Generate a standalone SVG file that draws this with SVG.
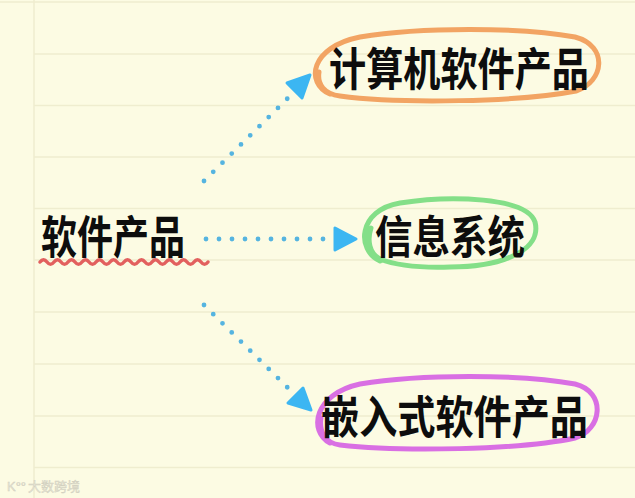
<svg xmlns="http://www.w3.org/2000/svg" width="635" height="498" viewBox="0 0 635 498">
<style>
.rule{stroke:#efedcf;stroke-width:1.5}
.lbl{font-family:"Noto Sans CJK SC","Noto Sans",sans-serif;font-weight:700;font-size:45px;fill:#0d0d0d}
.dots{fill:none;stroke:#55b4e0;stroke-width:4.8;stroke-linecap:round;stroke-dasharray:0 13}
.head{fill:#3cb6f2;stroke:#3cb6f2;stroke-width:3;stroke-linejoin:round}
.ring{fill:none;stroke-width:5;stroke-linecap:round}
</style>
<rect width="635" height="498" fill="#fcfbe3"/>
<g id="paper">
<line class="rule" x1="0" y1="2" x2="635" y2="2"/>
<line class="rule" x1="34" y1="54" x2="635" y2="54"/>
<line class="rule" x1="34" y1="105.5" x2="635" y2="105.5"/>
<line class="rule" x1="34" y1="157" x2="635" y2="157"/>
<line class="rule" x1="34" y1="208.5" x2="635" y2="208.5"/>
<line class="rule" x1="34" y1="260" x2="635" y2="260"/>
<line class="rule" x1="34" y1="312" x2="635" y2="312"/>
<line class="rule" x1="34" y1="364" x2="635" y2="364"/>
<line class="rule" x1="34" y1="416" x2="635" y2="416"/>
<line class="rule" x1="34" y1="467.5" x2="635" y2="467.5"/>
<line class="rule" x1="34" y1="0" x2="34" y2="498"/>
</g>
<g id="connectors">
<path class="dots" d="M204,181 L289,97"/>
<polygon class="head" points="287,83 310,75 302,98"/>
<path class="dots" d="M206,239 L325,239"/>
<polygon class="head" points="335,228 335,250 356,239"/>
<path class="dots" d="M204,305 L289,389"/>
<polygon class="head" points="288,403 303,388 311,410"/>
</g>
<g id="root">
<text class="lbl" x="41" y="254" textLength="144" lengthAdjust="spacingAndGlyphs">软件产品</text>
<path d="M40,262 q3.5,-4.5 7,0 t7,0 t7,0 t7,0 t7,0 t7,0 t7,0 t7,0 t7,0 t7,0 t7,0 t7,0 t7,0 t7,0 t7,0 t7,0 t7,0 t7,0 t7,0 t7,0 t7,0 t7,0 t7,0 t7,0" fill="none" stroke="#e2605e" stroke-width="3.5" stroke-linecap="round"/>
</g>
<g id="computer">
<path class="ring" stroke="#f2a463" d="M330,94 C305,83 310,47 360,37 C420,27 520,27 575,37 C609,46 604,82 576,91 C520,102 400,104 340,96 C324,94 317,84 319,72"/>
<text class="lbl" x="329" y="86" textLength="260" lengthAdjust="spacingAndGlyphs">计算机软件产品</text>
</g>
<g id="info">
<path class="ring" stroke="#84df88" d="M380,261 C356,250 358,210 400,203 C450,195 527,197 535,222 C542,249 505,267 450,267 C420,268 395,265 380,259 C369,253 367,240 371,228"/>
<text class="lbl" x="375" y="254" textLength="150" lengthAdjust="spacingAndGlyphs">信息系统</text>
</g>
<g id="embedded">
<path class="ring" stroke="#d96fe3" d="M330,443 C308,431 314,394 360,384 C420,374 520,374 575,384 C607,392 602,430 575,438 C520,450 400,452 340,445 C325,443 319,432 321,418"/>
<text class="lbl" x="321" y="434" textLength="267" lengthAdjust="spacingAndGlyphs">嵌入式软件产品</text>
</g>
<text x="28" y="491" font-family="Noto Sans CJK SC,sans-serif" font-size="13" fill="#e8e6d4" stroke="#cfcdbd" stroke-width="0.4">大数跨境</text>
<text x="7" y="491" font-family="Liberation Sans,sans-serif" font-size="13" fill="#e8e6d4" stroke="#cfcdbd" stroke-width="0.4">K°°</text>
</svg>
